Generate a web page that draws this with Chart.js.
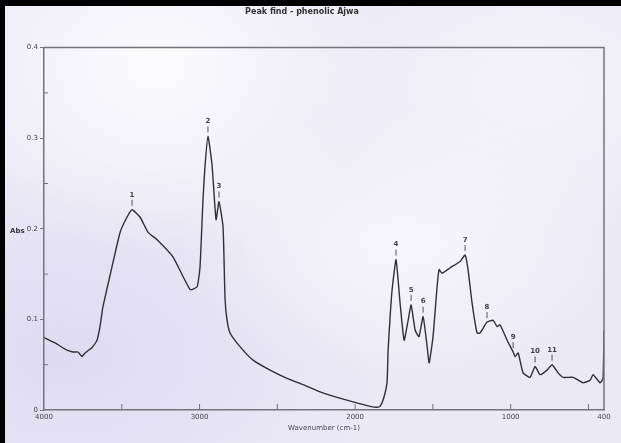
<!DOCTYPE html>
<html>
<head>
<meta charset="utf-8">
<title>Peak find - phenolic Ajwa</title>
<script src="https://cdn.jsdelivr.net/npm/chart.js@4.4.0/dist/chart.umd.min.js"></script>
<style>
  html, body { margin: 0; padding: 0; }
  body {
    width: 621px;
    height: 443px;
    overflow: hidden;
    position: relative;
    background:
      radial-gradient(ellipse at 25% 15%, rgba(255,255,255,0.85) 0%, rgba(255,255,255,0) 35%),
      radial-gradient(ellipse at 65% 55%, rgba(255,255,255,0.6) 0%, rgba(255,255,255,0) 40%),
      radial-gradient(ellipse at 85% 20%, rgba(255,255,255,0.5) 0%, rgba(255,255,255,0) 30%),
      radial-gradient(ellipse at 10% 80%, rgba(222,217,242,0.9) 0%, rgba(222,217,242,0) 40%),
      #ebe9f6;
  }
  #chart { position: absolute; left: 0; top: 0; }
  .edge { position: absolute; background: #000; }
</style>
</head>
<body>
<canvas id="chart" width="621" height="443"></canvas>
<div class="edge" style="left:0;top:0;width:621px;height:6px"></div>
<div class="edge" style="left:0;top:0;width:5px;height:443px"></div>
<script>
// Spectrum (wavenumber in cm-1, absorbance)
const wavenumbers = [
  4000, 3929, 3852, 3814, 3781, 3756, 3736, 3691, 3659, 3640,
  3621, 3608, 3563, 3511, 3466, 3434, 3383, 3331, 3273, 3171,
  3061, 3016, 2997, 2978, 2965, 2946, 2920, 2894, 2875, 2849,
  2836, 2823, 2804, 2740, 2656, 2547, 2438, 2335, 2225, 2116,
  2013, 1904, 1859, 1840, 1820, 1795, 1788, 1775, 1762, 1737,
  1711, 1685, 1659, 1640, 1614, 1589, 1563, 1537, 1524, 1499,
  1473, 1460, 1441, 1389, 1325, 1293, 1274, 1248, 1216, 1197,
  1152, 1113, 1087, 1068, 1023, 984, 972, 952, 920, 875,
  843, 811, 766, 734, 695, 663, 598, 534, 489, 470,
  425, 406, 400
];
const absorbance = [
  0.080, 0.074, 0.066, 0.064, 0.064, 0.059, 0.063, 0.069, 0.077, 0.092,
  0.114, 0.124, 0.158, 0.196, 0.213, 0.221, 0.213, 0.196, 0.188, 0.169,
  0.133, 0.136, 0.158, 0.232, 0.269, 0.302, 0.271, 0.210, 0.230, 0.202,
  0.122, 0.099, 0.085, 0.070, 0.055, 0.044, 0.035, 0.028, 0.020, 0.014,
  0.009, 0.004, 0.003, 0.004, 0.011, 0.030, 0.066, 0.103, 0.133, 0.166,
  0.118, 0.077, 0.099, 0.116, 0.088, 0.081, 0.103, 0.070, 0.052, 0.081,
  0.136, 0.155, 0.151, 0.157, 0.164, 0.171, 0.155, 0.118, 0.085, 0.085,
  0.097, 0.099, 0.092, 0.094, 0.077, 0.064, 0.059, 0.063, 0.041, 0.036,
  0.048, 0.039, 0.044, 0.050, 0.041, 0.036, 0.036, 0.030, 0.033, 0.039,
  0.030, 0.035, 0.088
];

// Peak markers
const peakNumbers = ["1", "2", "3", "4", "5", "6", "7", "8", "9", "10", "11"];
const peakWavenumbers = [3434, 2946, 2875, 1737, 1640, 1563, 1293, 1152, 984, 843, 734];

// Axis ticks
const xTickValues = [400, 500, 1000, 1500, 2000, 2500, 3000, 3500, 4000];
const xLabelled = [400, 1000, 2000, 3000, 4000];

const axisColor = "#74747c";
const textColor = "#44444f";

function nearestAbs(wn) {
  let best = 0;
  wavenumbers.forEach((w, i) => {
    if (Math.abs(w - wn) < Math.abs(wavenumbers[best] - wn)) best = i;
  });
  return absorbance[best];
}

const extrasPlugin = {
  id: "extras",
  afterDraw(chart) {
    const { ctx, chartArea, scales } = chart;
    const x = scales.x, y = scales.y;
    ctx.save();

    // frame top + right
    ctx.strokeStyle = axisColor;
    ctx.lineWidth = 1.5;
    ctx.beginPath();
    ctx.moveTo(chartArea.left, chartArea.top);
    ctx.lineTo(chartArea.right, chartArea.top);
    ctx.lineTo(chartArea.right, chartArea.bottom);
    ctx.stroke();

    // inner ticks on x axis
    ctx.lineWidth = 1;
    xTickValues.forEach((v) => {
      if (v === 400 || v === 4000) return;
      const px = x.getPixelForValue(v);
      ctx.beginPath();
      ctx.moveTo(px, chartArea.bottom);
      ctx.lineTo(px, chartArea.bottom - 6);
      ctx.stroke();
    });

    // inner minor ticks on y axis
    [0.05, 0.15, 0.25, 0.35].forEach((v) => {
      const py = y.getPixelForValue(v);
      ctx.beginPath();
      ctx.moveTo(chartArea.left, py);
      ctx.lineTo(chartArea.left + 4, py);
      ctx.stroke();
    });

    // y axis name, horizontal
    ctx.fillStyle = "#333";
    ctx.font = "bold 7px 'DejaVu Sans', sans-serif";
    ctx.textAlign = "left";
    ctx.textBaseline = "middle";
    ctx.fillText("Abs", 10, y.getPixelForValue(0.2) + 2);

    // peak numbers
    ctx.font = "bold 7px 'DejaVu Sans', sans-serif";
    ctx.textAlign = "center";
    ctx.fillStyle = "#444";
    ctx.strokeStyle = "#555";
    peakWavenumbers.forEach((wn, i) => {
      const px = x.getPixelForValue(wn);
      const py = y.getPixelForValue(nearestAbs(wn));
      ctx.fillText(peakNumbers[i], px, py - 15);
      ctx.beginPath();
      ctx.moveTo(px, py - 10);
      ctx.lineTo(px, py - 4);
      ctx.stroke();
    });
    ctx.restore();
  },
};

new Chart(document.getElementById("chart"), {
  type: "line",
  data: {
    datasets: [
      {
        data: wavenumbers.map((w, i) => ({ x: w, y: absorbance[i] })),
        borderColor: "#303034",
        borderWidth: 1.4,
        pointRadius: 0,
        tension: 0.15,
        fill: false,
      },
    ],
  },
  options: {
    responsive: false,
    animation: false,
    layout: { padding: { top: 6, right: 17, bottom: 0, left: 0 } },
    plugins: {
      legend: { display: false },
      tooltip: { enabled: false },
      title: {
        display: true,
        text: "Peak find - phenolic Ajwa",
        color: "#333",
        font: { family: "'DejaVu Sans', sans-serif", size: 8, weight: "bold" },
        padding: { top: 1, bottom: 31 },
      },
    },
    scales: {
      x: {
        type: "linear",
        reverse: true,
        min: 400,
        max: 4000,
        afterBuildTicks: (scale) => {
          scale.ticks = xTickValues.map((v) => ({ value: v }));
        },
        afterFit: (scale) => {
          scale.height = 33;
        },
        ticks: {
          autoSkip: false,
          maxRotation: 0,
          padding: 3,
          color: textColor,
          font: { family: "'DejaVu Sans', sans-serif", size: 7 },
          callback: (v) => (xLabelled.includes(v) ? String(v) : ""),
        },
        grid: { display: true, drawOnChartArea: false, tickLength: 0 },
        border: { color: axisColor, width: 1.5 },
        title: {
          display: true,
          text: "Wavenumber (cm-1)",
          color: textColor,
          font: { family: "'DejaVu Sans', sans-serif", size: 7 },
          padding: { top: 0, bottom: 11 },
        },
      },
      y: {
        min: 0,
        max: 0.4,
        afterFit: (scale) => {
          scale.width = 44;
        },
        ticks: {
          stepSize: 0.05,
          padding: 2,
          color: textColor,
          font: { family: "'DejaVu Sans', sans-serif", size: 7 },
          callback: (v) => {
            const r = Math.round(v * 10) / 10;
            return Math.abs(v - r) < 1e-6 ? String(r) : "";
          },
        },
        grid: {
          drawOnChartArea: false,
          tickLength: 4,
          tickColor: (c) => {
            const v = c.tick ? c.tick.value : 0;
            return Math.abs(v * 10 - Math.round(v * 10)) < 1e-6 ? axisColor : "rgba(0,0,0,0)";
          },
        },
        border: { color: axisColor, width: 1.5 },
      },
    },
  },
  plugins: [extrasPlugin],
});
</script>
</body>
</html>
